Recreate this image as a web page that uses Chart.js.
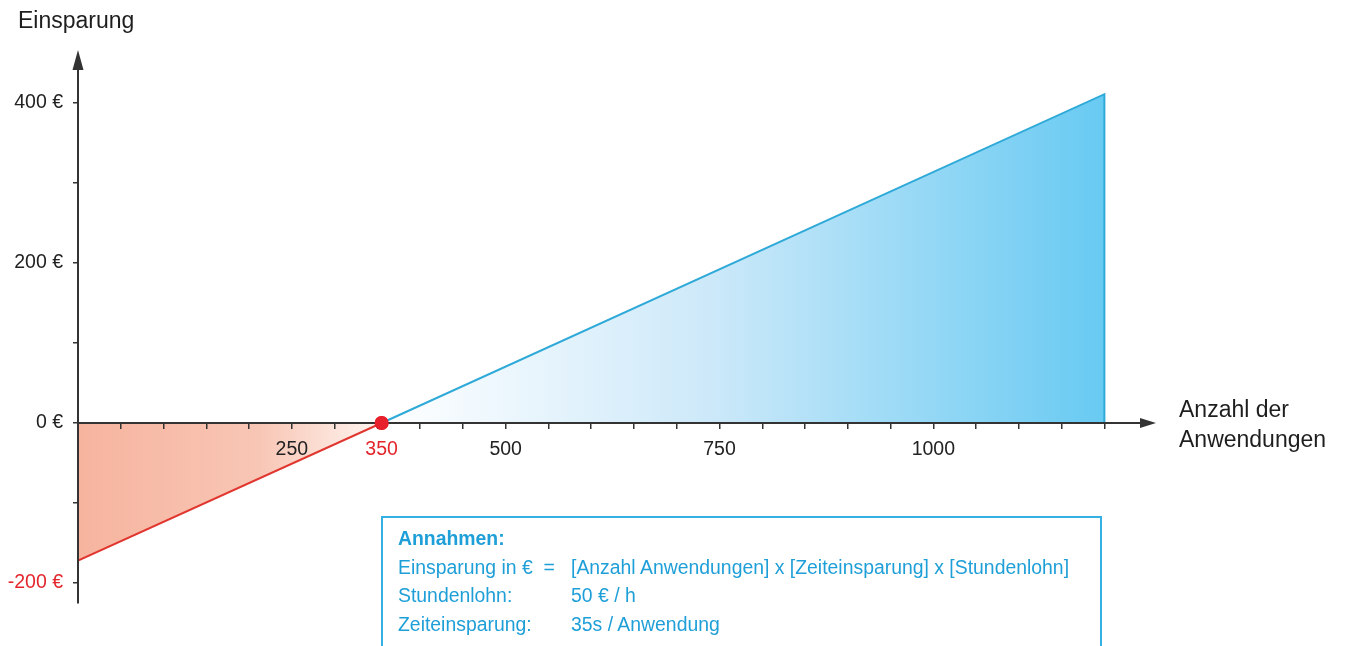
<!DOCTYPE html>
<html><head><meta charset="utf-8">
<script src="https://cdn.jsdelivr.net/npm/chart.js@4"></script>
<style>
html,body{margin:0;padding:0;background:#fff;}
#wrap{position:relative;width:1351px;height:646px;overflow:hidden;font-family:"Liberation Sans",Arial,Helvetica,sans-serif;}
#c{position:absolute;left:0;top:0;}
.title{position:absolute;font-size:23px;color:#1e1e1e;line-height:30px;white-space:nowrap;}
#box{position:absolute;left:381px;top:516px;width:717px;height:160px;border:2px solid #36b0e2;color:#1f9fd8;font-size:19.4px;line-height:28.7px;box-sizing:content-box;}
#box .inner{padding:6px 0 0 15px;}
#box .row{display:flex;white-space:nowrap;}
#box .k{width:173px;}
#box b{font-weight:bold;}
</style></head>
<body>
<div id="wrap">
<canvas id="c" width="1351" height="646"></canvas>
<div class="title" style="left:18px;top:5px;">Einsparung</div>
<div class="title" style="left:1179px;top:394px;">Anzahl der<br>Anwendungen</div>
<div id="box"><div class="inner">
<div class="row"><b>Annahmen:</b></div>
<div class="row"><span class="k">Einsparung in €&nbsp; =</span><span>[Anzahl Anwendungen] x [Zeiteinsparung] x [Stundenlohn]</span></div>
<div class="row"><span class="k">Stundenlohn:</span><span>50 € / h</span></div>
<div class="row"><span class="k">Zeiteinsparung:</span><span>35s / Anwendung</span></div>
</div></div>
</div>
<script>
// ---- data ----
const lossX = [0, 355];
const lossY = [-172, 0];
const gainX = [355, 1200, 1200];
const gainY = [0, 411, 0];
const breakEvenX = [355];
const breakEvenY = [0];

// ---- ticks ----
const xTickValues = [50,100,150,200,250,300,350,400,450,500,550,600,650,700,750,800,850,900,950,1000,1050,1100,1150,1200];
const xLabelValues = [250, 355, 500, 750, 1000];
const xLabelTexts = ['250', '350', '500', '750', '1000'];
const yTickValues = [-200,-100,0,100,200,300,400];
const yLabelValues = [-200, 0, 200, 400];
const yLabelTexts = ['-200 €', '0 €', '200 €', '400 €'];

const RED = '#e3262c';
const AXIS = '#333333';
const FONT = "'Liberation Sans', Arial, Helvetica, sans-serif";

const pts = (xs, ys) => xs.map((x, i) => ({x: x, y: ys[i]}));

function lossFill(ctx){
  const chart = ctx.chart, ca = chart.chartArea;
  if (!ca) return 'rgba(246,180,158,1)';
  const x0 = chart.scales.x.getPixelForValue(lossX[0]);
  const x1 = chart.scales.x.getPixelForValue(lossX[lossX.length-1]);
  const g = chart.ctx.createLinearGradient(x0, 0, x1, 0);
  g.addColorStop(0, 'rgb(246,180,158)');
  g.addColorStop(0.6, 'rgb(248,198,181)');
  g.addColorStop(1, 'rgb(255,246,242)');
  return g;
}
function gainFill(ctx){
  const chart = ctx.chart, ca = chart.chartArea;
  if (!ca) return 'rgba(120,205,240,1)';
  const x0 = chart.scales.x.getPixelForValue(gainX[0]);
  const x1 = chart.scales.x.getPixelForValue(gainX[gainX.length-1]);
  const g = chart.ctx.createLinearGradient(x0, 0, x1, 0);
  g.addColorStop(0, 'rgb(255,255,255)');
  g.addColorStop(0.45, 'rgb(205,233,249)');
  g.addColorStop(1, 'rgb(104,202,242)');
  return g;
}

const arrowPlugin = {
  id: 'arrows',
  afterDraw(chart){
    // redraw the break-even dot above the axes
    chart.getDatasetMeta(0).controller.draw();
    const ctx = chart.ctx, ca = chart.chartArea;
    const x0 = chart.scales.x.getPixelForValue(0);
    const y0 = chart.scales.y.getPixelForValue(0);
    ctx.save();
    ctx.fillStyle = AXIS;
    ctx.beginPath();
    ctx.moveTo(x0, ca.top - 10);
    ctx.lineTo(x0 - 5.5, ca.top + 10);
    ctx.lineTo(x0 + 5.5, ca.top + 10);
    ctx.closePath();
    ctx.fill();
    ctx.beginPath();
    ctx.moveTo(ca.right + 8, y0);
    ctx.lineTo(ca.right - 8, y0 - 5);
    ctx.lineTo(ca.right - 8, y0 + 5);
    ctx.closePath();
    ctx.fill();
    ctx.restore();
  }
};

new Chart(document.getElementById('c'), {
  type: 'line',
  data: {
    datasets: [
      {label: 'Break-even', data: pts(breakEvenX, breakEvenY), showLine: false,
       pointRadius: 7, pointBackgroundColor: '#e8202b', pointBorderWidth: 0, order: 0},
      {label: 'Verlust', data: pts(lossX, lossY), borderColor: '#e0362f', borderWidth: 2,
       fill: 'origin', backgroundColor: lossFill, pointRadius: 0, order: 2, tension: 0},
      {label: 'Einsparung', data: pts(gainX, gainY), borderColor: '#2ea9d8', borderWidth: 2,
       fill: 'origin', backgroundColor: gainFill, pointRadius: 0, order: 1, tension: 0}
    ]
  },
  options: {
    responsive: false,
    animation: false,
    devicePixelRatio: 1,
    layout: {padding: {top: 60, right: 203, bottom: 43, left: 0}},
    plugins: {legend: {display: false}, tooltip: {enabled: false}},
    scales: {
      x: {
        type: 'linear', min: 0, max: 1251, position: {y: 0},
        afterBuildTicks: s => {
          const vals = Array.from(new Set(xTickValues.concat(xLabelValues)));
          s.ticks = vals.map(v => ({value: v}));
        },
        grid: {drawOnChartArea: false, drawTicks: true, tickLength: 5, color: AXIS, lineWidth: 1.5, z: 1},
        border: {display: true, color: AXIS, width: 2, z: 1},
        ticks: {
          z: 1,
          autoSkip: false, maxRotation: 0, minRotation: 0, padding: 10,
          font: {size: 19.5, family: FONT},
          color: c => (c.tick && c.tick.value === xLabelValues[1]) ? RED : '#222',
          callback: v => { const i = xLabelValues.indexOf(v); return i >= 0 ? xLabelTexts[i] : ''; }
        }
      },
      y: {
        type: 'linear', min: -225, max: 453.75, position: 'left',
        afterFit: s => { s.width = 78; },
        afterBuildTicks: s => { s.ticks = yTickValues.map(v => ({value: v})); },
        grid: {drawOnChartArea: false, drawTicks: true, tickLength: 5, color: AXIS, lineWidth: 1.5, z: 1},
        border: {display: true, color: AXIS, width: 2, z: 1},
        ticks: {
          z: 1,
          autoSkip: false, padding: 10,
          font: {size: 19.5, family: FONT},
          color: c => (c.tick && c.tick.value < 0) ? RED : '#222',
          callback: v => { const i = yLabelValues.indexOf(v); return i >= 0 ? yLabelTexts[i] : ''; }
        }
      }
    }
  },
  plugins: [arrowPlugin]
});
</script>
</body></html>
